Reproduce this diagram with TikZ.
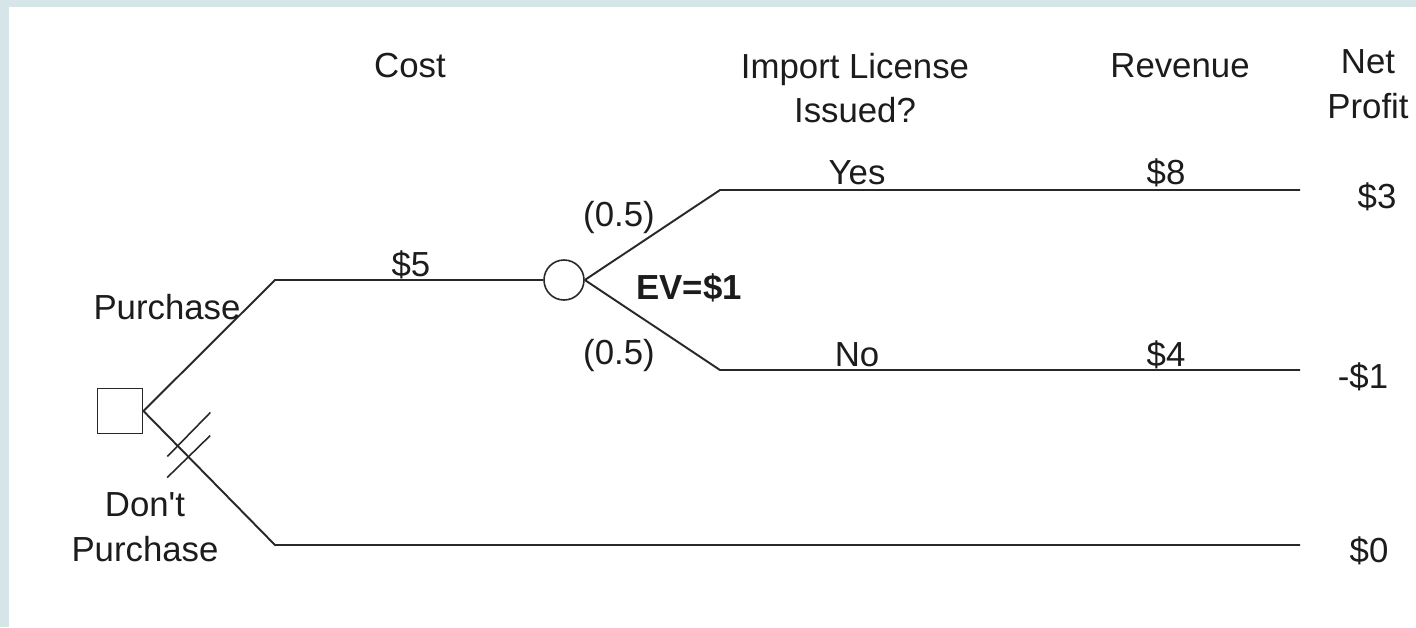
\documentclass[tikz,border=0pt]{standalone}
\usepackage{fontspec}
\setmainfont{Liberation Sans}
\usetikzlibrary{calc, positioning}
\definecolor{bgteal}{RGB}{214, 230, 232}
\definecolor{treegray}{RGB}{40, 40, 40}
\definecolor{labelgray}{RGB}{28, 28, 28}

\begin{document}
\begin{tikzpicture}[x=0.02cm, y=-0.02cm,
  branch/.style={draw=treegray, line width=1.1pt},
  hatch/.style={draw=treegray, line width=0.9pt},
  decision/.style={draw=treegray, line width=1.1pt, rectangle, minimum size=0.9cm, inner sep=0pt},
  chance/.style={draw=treegray, line width=0.9pt, circle, minimum size=0.8cm, inner sep=0pt},
  lbl/.style={text=labelgray, inner sep=0pt, align=center, font=\fontsize{19.8}{25.5}\selectfont}]

  % background frame
  \useasboundingbox (0,0) rectangle (1416,627);
  \fill[bgteal] (0,0) rectangle (1416,627);
  \fill[white] (9,7) rectangle (1416,627);

  % nodes of the tree
  \node[decision] (buy) at (120,411) {};
  \node[chance] (lic) at (564,280) {};
  \coordinate (buyA) at (275,280);
  \coordinate (yesA) at (720,190);
  \coordinate (yesB) at (1300,190);
  \coordinate (noA) at (720,370);
  \coordinate (noB) at (1300,370);
  \coordinate (dontA) at (275,545);
  \coordinate (dontB) at (1300,545);

  % branches
  \draw[branch] (buy.east) -- (buyA) -- (lic.west);
  \draw[branch] (lic.east) -- (yesA) -- (yesB);
  \draw[branch] (lic.east) -- (noA) -- (noB);
  \draw[branch] (buy.east) -- (dontA) -- (dontB);

  % pruned branch
  \path (buy.east) -- (dontA) coordinate[pos=0.265] (cutA) coordinate[pos=0.34] (cutB);
  \draw[hatch] ($(cutA)+(-11,10)$) -- ($(cutA)+(32,-34)$);
  \draw[hatch] ($(cutB)+(-21,21)$) -- ($(cutB)+(22,-21)$);

  % column heads
  \node[lbl] (costHead) at (410,66) {Cost};
  \node[lbl] (licHead) at (855,88) {Import License\\Issued?};
  \node[lbl] (revHead) at (1180,66) {Revenue};
  \node[lbl] (netHead) at (1368,84) {Net\\Profit};

  % branch labels
  \node[lbl] (buyLbl) at (167,307) {Purchase};
  \node[lbl] (dontLbl) at (145,527) {Don\textquotesingle t\\Purchase};
  \node[lbl] (costLbl) at (411,265) {\$5};
  \node[lbl] (pYes) at (619,217) {(0.5)};
  \node[lbl] (pNo) at (619,355) {(0.5)};
  \node[lbl] (ev) at (689,288) {\textbf{EV=\$1}};
  \node[lbl] (yesLbl) at (857,173) {Yes};
  \node[lbl] (noLbl) at (857,355) {No};
  \node[lbl] (revYes) at (1166,173) {\$8};
  \node[lbl] (revNo) at (1166,355) {\$4};

  % payoffs
  \node[lbl] (netYes) at (1377,197) {\$3};
  \node[lbl] (netNo) at (1363,377) {-\$1};
  \node[lbl] (netDont) at (1369,551) {\$0};
\end{tikzpicture}
\end{document}
